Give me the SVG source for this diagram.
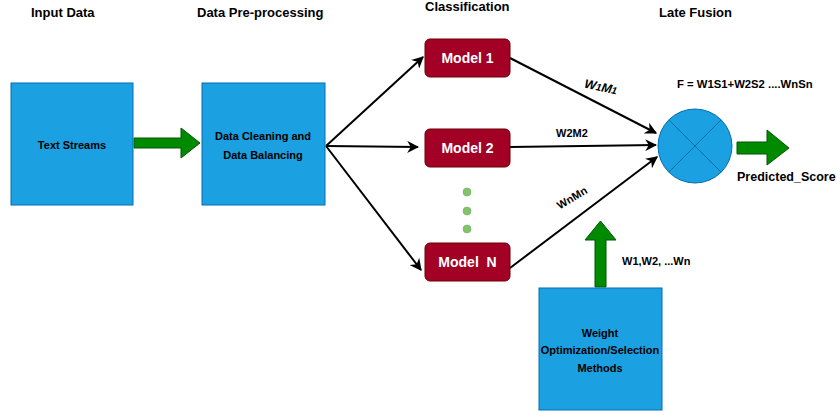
<svg xmlns="http://www.w3.org/2000/svg" width="840" height="418" viewBox="0 0 840 418">
<defs>
<style>
text{font-family:"Liberation Sans",Arial,sans-serif;font-weight:bold;fill:#000}
.title{font-size:13px}
.lbl{font-size:11px;text-anchor:middle}
.mdl{font-size:14px;fill:#fff;text-anchor:middle;white-space:pre}
.box{fill:#1ba1e2;stroke:#006eaf;stroke-width:1}
.model{fill:#a20025;stroke:#6f0000;stroke-width:1}
.conn{stroke:#000;stroke-width:2;fill:none;marker-end:url(#ah)}
.garrow{fill:#008a00;stroke:#005700;stroke-width:1}
.dot{fill:#82c46c;stroke:#6aa857;stroke-width:0.5}
</style>
<marker id="ah" viewBox="0 0 10 10" refX="9" refY="5" markerWidth="6" markerHeight="6" orient="auto" markerUnits="strokeWidth">
<path d="M0,0 L10,5 L0,10 L3,5 Z" fill="#000"/>
</marker>
</defs>
<rect width="840" height="418" fill="#fff"/>
<g id="titles">
<text class="title" x="31" y="17">Input Data</text>
<text class="title" x="197" y="17">Data Pre-processing</text>
<text class="title" x="425" y="11">Classification</text>
<text class="title" x="659" y="17">Late Fusion</text>
</g>
<g id="connectors">
<path class="conn" d="M326,146 L423,57"/>
<path class="conn" d="M326,146 L418,147"/>
<path class="conn" d="M326,146 L421,270"/>
<path class="conn" d="M510,58 L656,133"/>
<path class="conn" d="M510,147 L656,145"/>
<path class="conn" d="M510,268 L657,157"/>
<path class="garrow" d="M134,138 L181,138 L181,128 L200,143 L181,158 L181,148 L134,148 Z"/>
<path class="garrow" d="M737,142 L767,142 L767,130 L789,148 L767,165 L767,154 L737,154 Z"/>
<path class="garrow" d="M595,287 L595,240 L585,240 L600.5,221 L616,240 L606,240 L606,287 Z"/>
<text class="lbl" style="font-style:italic;font-size:12.5px" transform="translate(600,91) rotate(12)">W<tspan style="font-size:10px">1</tspan>M<tspan style="font-size:10px">1</tspan></text>
<text class="lbl" x="572" y="137">W2M2</text>
<text class="lbl" transform="translate(574,201) rotate(-31)">WnMn</text>
<text style="font-size:11px" x="622" y="265">W1,W2, ...Wn</text>
</g>
<g id="input">
<rect class="box" x="11" y="83" width="122" height="122"/>
<text class="lbl" x="72" y="149">Text Streams</text>
</g>
<g id="preprocess">
<rect class="box" x="202" y="83" width="123" height="122"/>
<text class="lbl" x="263" y="140">Data Cleaning and</text>
<text class="lbl" x="263" y="159">Data Balancing</text>
</g>
<g id="model1">
<rect class="model" x="425" y="39" width="85" height="38" rx="5"/>
<text class="mdl" x="467.5" y="63">Model 1</text>
</g>
<g id="model2">
<rect class="model" x="425" y="129" width="85" height="38" rx="5"/>
<text class="mdl" x="467.5" y="153">Model 2</text>
</g>
<g id="dots">
<circle class="dot" cx="467" cy="192" r="4"/>
<circle class="dot" cx="467" cy="211" r="4"/>
<circle class="dot" cx="467" cy="229" r="4"/>
</g>
<g id="modelN">
<rect class="model" x="425" y="243" width="85" height="38" rx="5"/>
<text class="mdl" x="467.5" y="267">Model  N</text>
</g>
<g id="fusion">
<circle cx="695" cy="146" r="37" fill="#1ba1e2" stroke="#006eaf" stroke-width="1"/>
<path d="M668.8,119.8 L721.2,172.2 M721.2,119.8 L668.8,172.2" stroke="#006eaf" stroke-width="1"/>
<text style="font-size:11.3px" x="677" y="88">F = W1S1+W2S2 ....WnSn</text>
</g>
<g id="output">
<text style="font-size:12.5px" x="737" y="181">Predicted_Score</text>
</g>
<g id="weights">
<rect class="box" x="539" y="288" width="123" height="122"/>
<text class="lbl" x="600" y="337">Weight</text>
<text class="lbl" x="600" y="354">Optimization/Selection</text>
<text class="lbl" x="600" y="372">Methods</text>
</g>
</svg>
